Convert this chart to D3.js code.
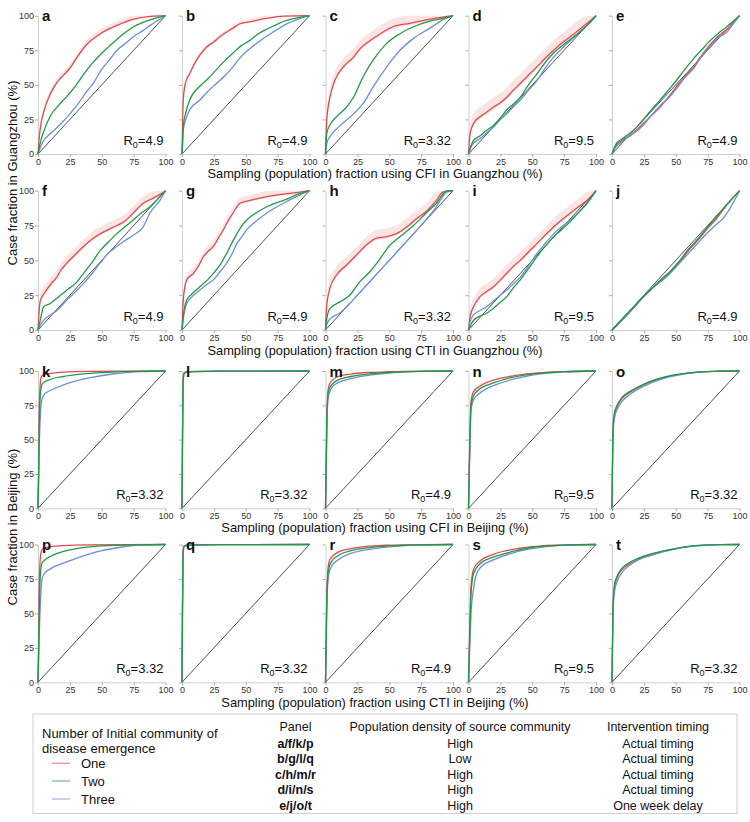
<!DOCTYPE html>
<html><head><meta charset="utf-8">
<script src="https://cdn.jsdelivr.net/npm/d3@7"></script>
<style>body{margin:0;background:#fff;} svg text{font-family:"Liberation Sans",Arial,Helvetica,sans-serif;}</style>
</head><body><svg id="c" width="750" height="822"></svg>
<script>
// ---------- data ----------
const panelLetters = ["a","b","c","d","e","f","g","h","i","j","k","l","m","n","o","p","q","r","s","t"];
const r0Values = ["4.9","4.9","3.32","9.5","4.9","4.9","4.9","3.32","9.5","4.9","3.32","3.32","4.9","9.5","3.32","3.32","3.32","4.9","9.5","3.32"];
const xTitles = ["Sampling (population) fraction using CFI in Guangzhou (%)","Sampling (population) fraction using CTI in Guangzhou (%)","Sampling (population) fraction using CFI in Beijing (%)","Sampling (population) fraction using CTI in Beijing (%)"];
const yTitles = ["Case fraction in Guangzhou (%)","Case fraction in Beijing (%)"];
const tickValues = [0,25,50,75,100];
const seriesNames = ["One","Two","Three"];
const redBand = [3,2,6,7,1,5,4,6,6,1,0,0,0,0,0,0,0,0,0,0];
const legendPanels = ["a/f/k/p","b/g/l/q","c/h/m/r","d/i/n/s","e/j/o/t"];
const legendDensity = ["High","Low","High","High","High"];
const legendTiming = ["Actual timing","Actual timing","Actual timing","Actual timing","One week delay"];

const a_one=[[0,0],[1,12],[2,20],[5,32],[10,44],[16,53],[20,57],[25,62],[30,69],[38,79],[49,87],[62,93],[75,97.5],[88,99.5],[100,100]];
const a_two=[[0,0],[2,9],[4,15],[10,28],[16,35],[23,42],[30,50],[36,58],[42,65],[49,72],[56,78],[62,83],[70,89],[75,92],[88,97],[100,100]];
const a_three=[[0,0],[2,5],[4,9],[10,15],[16,20],[25,29],[32,37],[38,45],[44,52],[49,60],[56,68],[62,75],[70,81],[75,85],[82,89],[88,93],[100,100]];
const b_one=[[0,0],[0.5,25],[1,39],[2.6,51],[6,58],[11.5,68],[19,77],[25,81],[30,85],[40,91],[45,94],[53,95.5],[66,98],[80,99.7],[100,100]];
const b_two=[[0,0],[0.5,10],[1,20],[3,30],[6,39],[14,49],[20,54],[27,61],[33,67],[40,73],[46,78],[53,82],[60,87],[66,90],[73,93],[80,96],[93,99],[100,100]];
const b_three=[[0,0],[0.5,8],[1,17],[3,25],[6,32],[14,39],[20,45],[27,51],[33,56],[40,63],[46,70],[53,76],[60,81],[66,85],[73,89],[80,93],[93,98],[100,100]];
const c_one=[[0,0],[1,24.6],[3.5,41],[7.5,53.5],[14,63],[22,70],[27,76],[35,82],[43,87],[53,92],[66,94.5],[79,97],[92,99],[100,100]];
const c_two=[[0,0],[1,15],[3.5,21],[8.7,27],[16.6,34],[22,41],[29.6,56],[37.5,68],[48,80],[58.4,87],[69,92],[82,96],[92,98],[100,100]];
const c_three=[[0,0],[1,7.7],[3.5,12.5],[11,20],[22,29],[29.6,36.6],[37.5,48.7],[48,63],[58.4,75],[69,83.6],[82,91],[92,97],[100,100]];
const d_one=[[0,0],[1.3,15],[4,22],[9,27],[14,30],[19.6,34],[25,37],[30,41],[35,46],[40.6,51],[47,57],[53.7,63],[60,69],[66.8,75],[73,80],[80,85],[87,90],[93,94.5],[100,100]];
const d_two=[[0,0],[2,6],[4,10],[9,13],[14,17],[20,21],[25,26],[30,32],[35,36],[40.6,41],[47,50],[53.7,58],[60,66],[66.8,73],[73,78],[80,83],[87,88],[93,93],[100,100]];
const d_three=[[0,0],[2,5],[4,8],[9,11],[14,15],[20,20],[25,25],[30,29],[35,34],[40.6,39],[47,46],[53.7,53],[60,62],[66.8,70],[73,76],[80,82],[87,88],[93,93],[100,100]];
const e_one=[[0,0],[3,6],[8,10],[14,13],[20,18],[24.6,22],[30,27],[37.7,34],[45,42],[50.8,49],[57,56],[64,63],[70,71],[77,79],[83,85],[90,90],[95,95],[100,100]];
const e_two=[[0,0],[3,7],[8,11],[14,15],[20,20],[24.6,25],[30,31],[37.7,39],[45,47],[50.8,53.5],[57,61],[64,69],[70,75],[77,82],[83,87],[90,92],[95,96],[100,100]];
const e_three=[[0,0],[3,5],[8,9],[14,13],[20,17],[24.6,21],[30,27],[37.7,35],[45,41],[50.8,47.5],[57,55],[64,62],[70,70],[77,77.6],[83,84],[90,88],[95,94],[100,100]];
const f_one=[[0,0],[1,15],[1.8,21],[4,25],[7,29],[10,33],[14.8,38],[18,43],[22.6,48],[28,53],[35.7,60],[42,65],[48.7,69],[55,72],[61.7,75],[68,78],[74.7,84],[82.5,91],[90,94.5],[95,97],[100,100]];
const f_two=[[0,0],[2,8],[4.4,16.7],[9.6,19],[15,23],[22.6,28.7],[30,34],[35.7,40.7],[42,48],[48.7,57],[55,63],[61.7,69],[68,74],[74.7,79],[81,84],[87.8,88.5],[94,94],[100,100]];
const f_three=[[0,0],[2,4],[4.4,7],[10,11],[14.8,14],[22.6,21.5],[30,28],[35.7,33.5],[42,40],[48.7,48],[55,55],[61.7,60],[68,64],[74.7,68],[82.5,74],[87.8,84],[95.6,93],[100,100]];
const g_one=[[0,0],[1,21.5],[3.7,36],[9,40.7],[13,46],[16.8,52.6],[20,56],[24.6,60],[28,65],[32.5,72],[36,78],[40,84],[45.5,91],[53.4,93],[60,94.5],[66.5,95.7],[79.6,97.6],[92.7,99],[100,100]];
const g_two=[[0,0],[1,10],[3.7,21.5],[8,26],[14,31],[20,36],[24.6,40.7],[30,47],[35,55],[40,64],[43,69],[47,75],[50.8,79],[58,84],[66.5,88.5],[79.6,93],[92.7,98],[100,100]];
const g_three=[[0,0],[1,8],[3.7,19],[8,24],[14,28.7],[20,33],[24.6,36],[30,42],[35,48],[40,56],[43,62],[47,67],[50.8,72],[58,78],[66.5,84],[79.6,91],[92.7,97],[100,100]];
const h_one=[[0,0],[1,18],[3.5,30],[8.7,39.5],[16.6,46.7],[24.5,54],[32,61],[40,66],[48,67],[56,69.4],[63.7,74],[71.5,80],[79,85],[87,93],[92,99],[100,100]];
const h_two=[[0,0],[1,8],[3.5,15.5],[11,20],[19,25],[27,34.7],[35,42],[43,51.4],[50.6,61],[58.4,67],[69,75],[79,84],[87,91],[95,99.8],[100,100]];
const h_three=[[0,0],[1,4],[3.5,8],[11,12],[19,19],[30,30],[40,40],[50,50],[60,60],[70,70],[80,80.5],[85,86],[90,93],[95,99],[100,100]];
const i_one=[[0,0],[1.3,9.6],[4,16.7],[9,24],[14,27.5],[19.6,31],[25,36],[30,40.7],[35,45.5],[40.6,50],[47,56],[53.7,62],[60,68],[66.8,74],[73,79],[80,84],[87,89],[93,93],[100,100]];
const i_two=[[0,0],[2,4],[4,7],[9,10],[14,12],[20,16],[25,20],[30,24],[35,30],[40.6,36],[47,44],[53.7,52.6],[60,60],[66.8,67],[73,72],[80,78],[87,85],[93,91],[100,100]];
const i_three=[[0,0],[1.3,6],[4,10.8],[9,14],[14,16.7],[20,21],[25,25],[30,28.7],[35,33],[40.6,38],[47,46],[53.7,55],[60,62],[66.8,69],[73,74],[80,79],[87,85],[93,91],[100,100]];
const j_one=[[0,0],[5,4.5],[10,9],[17,16],[25,24],[33,31],[40,37],[45,41],[50,46],[55,51],[60,57],[67,64],[75,73],[82,80],[87,86],[93,93],[100,100]];
const j_two=[[0,0],[5,5],[10,10],[17,16.5],[25,24.5],[33,31.5],[40,37.5],[45,41.5],[50,46.5],[55,52],[60,58],[67,65],[75,74],[82,81.5],[87,87],[93,93],[100,100]];
const j_three=[[0,0],[5,4.5],[10,9],[17,16],[25,24],[33,31],[40,36],[45,40],[50,45],[55,50],[60,55],[67,62],[75,70],[82,76],[87,80],[93,88],[100,100]];
const k_one=[[0,0],[0.5,30],[1,70],[2,93],[3,96.5],[5,97.5],[10,98.3],[20,99.2],[40,99.7],[100,100]];
const k_two=[[0,0],[0.5,25],[1,60],[2,85],[3,90],[5,92],[10,94],[20,96],[30,97.3],[50,98.8],[75,99.7],[100,100]];
const k_three=[[0,0],[0.5,20],[1,45],[2,70],[3,79],[5,83],[10,86],[15,88],[25,91.5],[40,95],[60,98],[80,99.5],[100,100]];
const l_one=[[0,0],[0.3,40],[0.8,92],[1.5,98.5],[3,99.3],[10,99.7],[30,99.9],[100,100]];
const l_two=[[0,0],[0.3,38],[0.8,90],[1.5,98],[3,99.2],[10,99.6],[30,99.9],[100,100]];
const l_three=[[0,0],[0.3,35],[0.8,88],[1.5,97.5],[3,99],[10,99.6],[30,99.9],[100,100]];
const m_one=[[0,0],[0.5,30],[1,65],[2,86],[3,90],[5,93],[10,96],[20,97.8],[35,99],[50,99.5],[75,99.9],[100,100]];
const m_two=[[0,0],[0.5,28],[1,60],[2,83],[3,87],[5,90],[10,93.5],[20,96],[35,98],[50,99],[75,99.8],[100,100]];
const m_three=[[0,0],[0.5,25],[1,55],[2,80],[3,84],[5,88],[10,91.5],[20,94.5],[35,97],[50,98.5],[75,99.7],[100,100]];
const n_one=[[0,0],[0.5,25],[1,50],[2,78],[4,85],[9,89],[14,91.5],[20,93.5],[35,96.5],[50,98.3],[75,99.6],[100,100]];
const n_two=[[0,0],[0.5,22],[1,45],[2,75],[4,82],[9,87],[14,89.5],[20,91.5],[35,95.5],[50,97.8],[75,99.5],[100,100]];
const n_three=[[0,0],[0.5,20],[1,40],[2,72],[4,79],[9,84],[14,87],[20,89.5],[35,94],[50,97],[75,99.3],[100,100]];
const o_one=[[0,0],[0.5,40],[1,60],[2,68],[4,74],[8,80],[14,84.5],[25,90],[40,95],[60,98.5],[80,99.8],[100,100]];
const o_two=[[0,0],[0.5,42],[1,62],[2,70],[4,75],[8,81],[14,85],[25,90.5],[40,95.3],[60,98.6],[80,99.8],[100,100]];
const o_three=[[0,0],[0.5,38],[1,57],[2,66],[4,72],[8,78],[14,83],[25,89],[40,94.5],[60,98.3],[80,99.7],[100,100]];
const p_one=[[0,0],[0.5,30],[1,70],[2,92],[3,96],[5,97.5],[10,98.4],[20,99.2],[40,99.7],[100,100]];
const p_two=[[0,0],[0.5,25],[1,55],[2,80],[3,86],[5,88.5],[10,91.5],[20,95],[30,97],[50,99],[75,99.8],[100,100]];
const p_three=[[0,0],[0.5,15],[1,35],[2,60],[3,74],[5,79],[10,82.5],[20,86.5],[30,90],[40,93],[50,95.5],[65,98],[80,99.5],[100,100]];
const q_one=[[0,0],[0.3,45],[0.8,93],[1.5,98.8],[3,99.4],[10,99.7],[30,99.9],[100,100]];
const q_two=[[0,0],[0.3,42],[0.8,91],[1.5,98.5],[3,99.3],[10,99.7],[30,99.9],[100,100]];
const q_three=[[0,0],[0.3,38],[0.8,89],[1.5,98],[3,99.1],[10,99.6],[30,99.9],[100,100]];
const r_one=[[0,0],[0.5,30],[1,62],[2,83],[3,88],[5,91],[10,94.5],[20,97],[35,98.8],[50,99.5],[75,99.9],[100,100]];
const r_two=[[0,0],[0.5,27],[1,58],[2,79],[3,84],[5,88],[10,92],[20,95.5],[35,97.8],[50,99],[75,99.8],[100,100]];
const r_three=[[0,0],[0.5,24],[1,52],[2,74],[3,80],[5,84.5],[10,89],[20,93.5],[35,96.5],[50,98.3],[75,99.6],[100,100]];
const s_one=[[0,0],[1,40],[2,70],[4,82],[9,88],[20,93],[35,96.5],[50,98.5],[75,99.8],[100,100]];
const s_two=[[0,0],[1,35],[2,65],[4,79],[9,86],[20,91],[35,95],[50,98],[75,99.6],[100,100]];
const s_three=[[0,0],[1,25],[2,50],[4,68],[6,78],[10,84],[20,89],[35,94],[50,97],[75,99.5],[100,100]];
const t_one=[[0,0],[0.5,35],[1,58],[2,69],[4,76],[8,82],[14,86],[19,88.5],[30,92.5],[45,96],[60,98.5],[71,99.4],[85,99.9],[100,100]];
const t_two=[[0,0],[0.5,38],[1,60],[2,71],[4,77],[8,83],[14,87],[19,89.5],[30,93],[45,96.3],[60,98.7],[71,99.5],[85,99.9],[100,100]];
const t_three=[[0,0],[0.5,32],[1,55],[2,66],[4,73],[8,80],[14,85],[19,88],[30,92],[45,95.8],[60,98.4],[71,99.3],[85,99.9],[100,100]];

const panels = [
  [a_one,a_two,a_three],[b_one,b_two,b_three],[c_one,c_two,c_three],[d_one,d_two,d_three],[e_one,e_two,e_three],
  [f_one,f_two,f_three],[g_one,g_two,g_three],[h_one,h_two,h_three],[i_one,i_two,i_three],[j_one,j_two,j_three],
  [k_one,k_two,k_three],[l_one,l_two,l_three],[m_one,m_two,m_three],[n_one,n_two,n_three],[o_one,o_two,o_three],
  [p_one,p_two,p_three],[q_one,q_two,q_three],[r_one,r_two,r_three],[s_one,s_two,s_three],[t_one,t_two,t_three]
];

// ---------- drawing ----------
const colors = ["#e5484d","#1f9a47","#6a8fd8"];
const FONT = '"Liberation Sans", Arial, Helvetica, sans-serif';
const svg = d3.select("#c");
const colX = [38,182,325.5,468.5,612], pw = 127.5;
const rowTop = [15.7,190.7,371,544.5], rowBot = [154,330,508.3,682.3];

panels.forEach((ser, i) => {
  const r = Math.floor(i/5), c = i%5;
  const x = d3.scaleLinear().domain([0,100]).range([colX[c], colX[c]+pw]);
  const y = d3.scaleLinear().domain([0,100]).range([rowBot[r], rowTop[r]]);
  const g = svg.append("g");

  const xa = g.append("g").attr("transform",`translate(0,${rowBot[r]})`)
    .call(d3.axisBottom(x).tickValues(tickValues).tickSize(3).tickSizeOuter(0).tickPadding(1.5));
  const ya = g.append("g").attr("transform",`translate(${colX[c]},0)`)
    .call(d3.axisLeft(y).tickValues(tickValues).tickSize(3).tickSizeOuter(0).tickPadding(1)
      .tickFormat(c===0 ? d3.format("d") : () => ""));
  [xa, ya].forEach(a => {
    a.attr("font-family", FONT).attr("font-size", 9);
    a.select(".domain").attr("stroke","#cfcfcf");
    a.selectAll(".tick line").attr("stroke","#aaa");
    a.selectAll(".tick text").attr("fill","#333");
  });

  const line = d3.line().x(d=>x(d[0])).y(d=>y(d[1]));
  g.append("path").datum([[0,0],[100,100]]).attr("d", line)
    .attr("fill","none").attr("stroke","#222").attr("stroke-width",0.8);

  if (redBand[i] > 0) {
    const w = redBand[i];
    const area = d3.area().curve(d3.curveMonotoneX)
      .x(d=>x(d[0])).y0(d=>y(Math.max(0, d[1]-w*0.25))).y1(d=>y(Math.min(100, d[1]+w)));
    g.append("path").datum(ser[0]).attr("d", area).attr("fill", colors[0]).attr("opacity", 0.15);
  }

  const lineC = d3.line().curve(d3.curveMonotoneX).x(d=>x(d[0])).y(d=>y(d[1]));
  [0,2,1].forEach(k => {
    g.append("path").datum(ser[k]).attr("d", lineC)
      .attr("fill","none").attr("stroke", colors[k]).attr("stroke-width",1.3).attr("stroke-linejoin","round");
  });

  g.append("text").attr("x", colX[c]+4).attr("y", rowTop[r]+5.5)
    .attr("font-size", 15).attr("font-weight","bold").attr("fill","#111").text(panelLetters[i]);

  const t = g.append("text").attr("x", colX[c]+pw-2).attr("y", rowBot[r]-9)
    .attr("text-anchor","end").attr("font-size",13).attr("fill","#111");
  t.append("tspan").text("R");
  t.append("tspan").attr("font-size",9).attr("dy",3).text("0");
  t.append("tspan").attr("dy",-3).text("=" + r0Values[i]);
});

const xTitleY = [178, 355, 532, 707];
xTitles.forEach((s, r) => {
  svg.append("text").attr("x", 375).attr("y", xTitleY[r]).attr("text-anchor","middle")
    .attr("font-size",12.8).attr("fill","#111").text(s);
});
const yTitleCenter = [173, 527];
yTitles.forEach((s, k) => {
  svg.append("text").attr("transform", `translate(17,${yTitleCenter[k]}) rotate(-90)`)
    .attr("text-anchor","middle").attr("font-size",13).attr("fill","#111").text(s);
});

// ---------- legend ----------
const lg = svg.append("g");
lg.append("rect").attr("x",33).attr("y",714).attr("width",704).attr("height",99.5)
  .attr("fill","none").attr("stroke","#cfcfcf").attr("stroke-width",1);
lg.append("text").attr("x",42).attr("y",737.5).attr("font-size",13).attr("fill","#111").text("Number of Initial community of");
lg.append("text").attr("x",42).attr("y",753.3).attr("font-size",13).attr("fill","#111").text("disease emergence");
const itemY = [763.3, 781, 799];
seriesNames.forEach((s, k) => {
  lg.append("line").attr("x1",52).attr("x2",70).attr("y1",itemY[k]).attr("y2",itemY[k])
    .attr("stroke",colors[k]).attr("stroke-width",1.3).attr("opacity",0.6);
  lg.append("text").attr("x",81).attr("y",itemY[k]+4.5).attr("font-size",13).attr("fill","#111").text(s);
});
const headY = 731;
const rowY = [747.6, 763, 778.5, 794.3, 810];
const cols = [
  {cx:295.5, head:"Panel", vals:legendPanels, bold:true},
  {cx:460, head:"Population density of source community", vals:legendDensity, bold:false},
  {cx:658, head:"Intervention timing", vals:legendTiming, bold:false}
];
cols.forEach(col => {
  lg.append("text").attr("x",col.cx).attr("y",headY).attr("text-anchor","middle")
    .attr("font-size",12.5).attr("fill","#111").text(col.head);
  col.vals.forEach((v, k) => {
    lg.append("text").attr("x",col.cx).attr("y",rowY[k]).attr("text-anchor","middle")
      .attr("font-size",12.5).attr("font-weight", col.bold ? "bold" : "normal").attr("fill","#111").text(v);
  });
});
</script></body></html>
